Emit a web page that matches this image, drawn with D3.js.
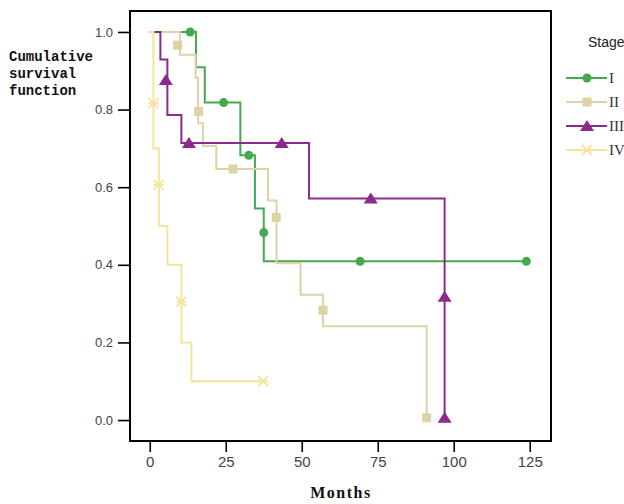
<!DOCTYPE html>
<html><head><meta charset="utf-8">
<script src="https://cdn.jsdelivr.net/npm/d3@7/dist/d3.min.js"></script>
<style>body{margin:0;background:#fff}svg{display:block}</style>
</head><body><svg id="c" width="624" height="504"></svg>
<script>
const stages = ["I","II","III","IV"];
const colors = ["#45a94f","#ddd3a6","#8b2a8c","#f4e49c"];
const markerTypes = ["circle","square","triangle","cross"];
// step times and survival
const timesI = [0,15.2,18.1,29.8,34.6,37.5,123.9];
const survI  = [1,0.909,0.818,0.682,0.545,0.409,0.409];
const censTI = [13.3,24.3,32.6,37.5,69.2,123.9];
const censSI = [1,0.818,0.682,0.483,0.409,0.409];
const timesII = [0,9.9,15.1,15.9,17.5,21.9,38.9,41.7,49.6,57.0,91.1];
const survII  = [1,0.941,0.882,0.765,0.706,0.647,0.566,0.404,0.323,0.242,0];
const censTII = [9.2,16.1,27.4,41.6,57.0,91.1];
const censSII = [0.966,0.795,0.647,0.522,0.283,0.006];
const timesIII = [0,3.5,5.8,10.4,52.4,97];
const survIII  = [1,0.929,0.786,0.714,0.571,0];
const censTIII = [5.3,12.9,43.4,72.7,97,97];
const censSIII = [0.876,0.714,0.714,0.571,0.318,0.006];
const timesIV = [0,1.2,3.0,5.8,10.4,13.7,37.3];
const survIV  = [1,0.7,0.5,0.4,0.2,0.1,0.1];
const censTIV = [1.2,2.9,10.4,37.3];
const censSIV = [0.816,0.606,0.305,0.1];
const xTicks = [0,25,50,75,100,125];
const yTicks = [0,0.2,0.4,0.6,0.8,1.0];

const series = [
  {t:timesI,s:survI,ct:censTI,cs:censSI},
  {t:timesII,s:survII,ct:censTII,cs:censSII},
  {t:timesIII,s:survIII,ct:censTIII,cs:censSIII},
  {t:timesIV,s:survIV,ct:censTIV,cs:censSIV}
];

const svg = d3.select("#c");
const L=130,R=551,T=11,B=441;
const x = d3.scaleLinear().domain([-6.5,132]).range([L,R]);
const y = d3.scaleLinear().domain([-0.054,1.054]).range([B,T]);

// axes
const xa = svg.append("g").attr("transform",`translate(0,${B})`)
  .call(d3.axisBottom(x).tickValues(xTicks).tickSize(11).tickFormat(d3.format("d")));
xa.select(".domain").remove();
xa.selectAll(".tick line").attr("stroke","#000").attr("stroke-width",1.6);
xa.selectAll(".tick text").attr("font-family","Liberation Sans, Arial, sans-serif").attr("font-size",15).attr("fill","#444").attr("dy","0.95em").attr("y",12);
const ya = svg.append("g").attr("transform",`translate(${L},0)`)
  .call(d3.axisLeft(y).tickValues(yTicks).tickSize(12).tickFormat(d3.format(".1f")));
ya.select(".domain").remove();
ya.selectAll(".tick line").attr("stroke","#000").attr("stroke-width",1.6);
ya.selectAll(".tick text").attr("font-family","Liberation Sans, Arial, sans-serif").attr("font-size",13).attr("fill","#444").attr("x",-17);

svg.append("rect").attr("x",L).attr("y",T).attr("width",R-L).attr("height",B-T)
  .attr("fill","none").attr("stroke","#000").attr("stroke-width",2);

const line = d3.line().x(d=>x(d[0])).y(d=>y(d[1])).curve(d3.curveStepAfter);

function drawMarker(g, type, cx, cy, color){
  if(type==="circle") g.append("circle").attr("cx",cx).attr("cy",cy).attr("r",4.5).attr("fill",color);
  else if(type==="square") g.append("rect").attr("x",cx-4.5).attr("y",cy-4.5).attr("width",9).attr("height",9).attr("fill",color);
  else if(type==="triangle") g.append("path").attr("d",`M${cx},${cy-6}L${cx+7},${cy+5}L${cx-7},${cy+5}Z`).attr("fill",color);
  else g.append("path").attr("d",`M${cx-5},${cy-5}L${cx+5},${cy+5}M${cx-5},${cy+5}L${cx+5},${cy-5}M${cx-5},${cy}L${cx+5},${cy}`).attr("stroke",color).attr("stroke-width",1.8).attr("fill","none");
}

series.forEach((se,i)=>{
  const pts = se.t.map((t,j)=>[t,se.s[j]]);
  const g = svg.append("g");
  g.append("path").attr("d",line(pts)).attr("fill","none").attr("stroke",colors[i]).attr("stroke-width",2);
  se.ct.forEach((t,j)=>drawMarker(g,markerTypes[i],x(t),y(se.cs[j]),colors[i]));
});

// y label
const yl = svg.append("text").attr("font-family","Liberation Mono, Courier New, monospace").attr("font-size",14).attr("font-weight","bold").attr("fill","#111");
["Cumulative","survival","function"].forEach((s,i)=>yl.append("tspan").attr("x",9).attr("y",61+i*17).text(s));

svg.append("text").attr("x",341).attr("y",498).attr("text-anchor","middle")
  .attr("font-family","Liberation Serif, Times New Roman, serif").attr("font-weight","bold").attr("font-size",16).attr("letter-spacing",1.5).attr("fill","#111").text("Months");

// legend
svg.append("text").attr("x",588).attr("y",47).attr("font-family","Liberation Sans, Arial, sans-serif").attr("font-size",14).attr("fill","#222").text("Stage");
const legY = [78,102,126,150];
stages.forEach((s,i)=>{
  const g = svg.append("g");
  g.append("line").attr("x1",566).attr("x2",607).attr("y1",legY[i]).attr("y2",legY[i]).attr("stroke",colors[i]).attr("stroke-width",2);
  drawMarker(g,markerTypes[i],587,legY[i],colors[i]);
  g.append("text").attr("x",609).attr("y",legY[i]+5).attr("font-family","Liberation Serif, Times New Roman, serif").attr("font-size",15).attr("fill","#333").text(s);
});
</script></body></html>
